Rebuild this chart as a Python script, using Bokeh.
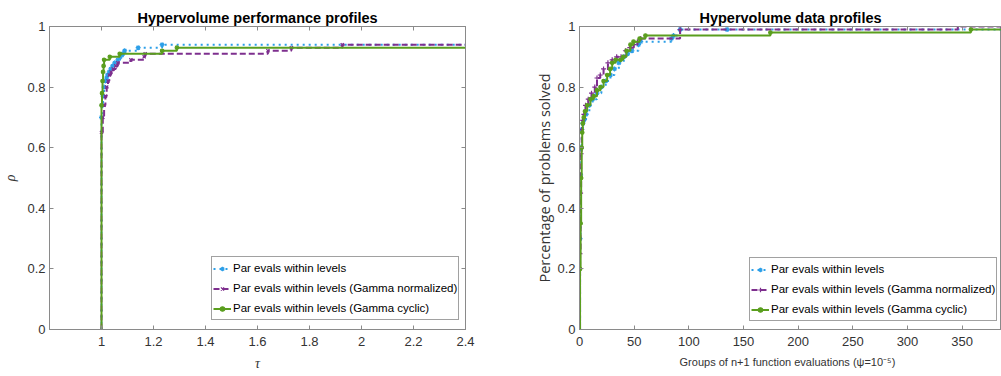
from bokeh.plotting import figure
from bokeh.models import LinearAxis, FixedTicker, Range1d, Legend, LegendItem
from bokeh.layouts import row
from bokeh.embed import file_html
from bokeh.resources import INLINE

# ---------------- data ----------------
series_names = ["Par evals within levels",
                "Par evals within levels (Gamma normalized)",
                "Par evals within levels (Gamma cyclic)"]

# performance profiles (tau, rho) step breakpoints
perf_tau_levels = [1.0, 1.0, 1.003, 1.006, 1.01, 1.015, 1.02, 1.023, 1.03, 1.036, 1.043, 1.051,
                   1.063, 1.072, 1.082, 1.089, 1.141, 1.233, 2.4]
perf_rho_levels = [0.0, 0.70, 0.74, 0.77, 0.80, 0.82, 0.83, 0.84, 0.85, 0.86, 0.87, 0.88,
                   0.89, 0.90, 0.91, 0.92, 0.93, 0.94, 0.94]

perf_tau_norm = [1.0, 1.0, 1.005, 1.01, 1.015, 1.02, 1.025, 1.03, 1.037, 1.045, 1.055, 1.063,
                 1.113, 1.164, 1.168, 1.64, 1.73, 1.926, 2.4]
perf_rho_norm = [0.0, 0.65, 0.70, 0.74, 0.77, 0.80, 0.82, 0.84, 0.85, 0.86, 0.87, 0.88,
                 0.89, 0.90, 0.91, 0.92, 0.93, 0.94, 0.94]

perf_tau_cyclic = [1.0, 1.0, 1.002, 1.004, 1.006, 1.008, 1.01, 1.032, 1.07, 1.233, 1.29, 2.4]
perf_rho_cyclic = [0.0, 0.74, 0.78, 0.82, 0.85, 0.87, 0.89, 0.90, 0.91, 0.92, 0.93, 0.93]

# data profiles (groups of n+1 evaluations, fraction solved)
data_x_levels = [0, 0.5, 1, 1.5, 2, 3, 4, 6, 9, 12, 16, 20, 24, 28.3, 32, 36, 40.5, 44, 48,
                 54, 56, 84, 86, 92, 135, 386]
data_y_levels = [0.0, 0.3, 0.51, 0.6, 0.66, 0.68, 0.69, 0.71, 0.74, 0.76, 0.78, 0.80, 0.82, 0.84,
                 0.86, 0.88, 0.90, 0.91, 0.92, 0.94, 0.95, 0.96, 0.97, 0.99, 0.99, 0.99]

data_x_norm = [0, 0.5, 1, 1.5, 2, 3, 4, 5.5, 8, 11, 14, 16, 19, 22, 26, 29.9, 34, 38, 42, 46,
               49.6, 53, 56, 92, 346, 386]
data_y_norm = [0.0, 0.25, 0.45, 0.58, 0.66, 0.69, 0.71, 0.74, 0.76, 0.78, 0.80, 0.83, 0.84, 0.86,
               0.88, 0.89, 0.90, 0.90, 0.92, 0.93, 0.94, 0.95, 0.96, 0.99, 1.0, 1.0]

data_x_cyclic = [0, 0.5, 1, 1.5, 2, 2.5, 3, 3.9, 5, 7, 10, 13, 16, 19.2, 22, 25.3, 28, 29.9,
                 33, 37.5, 40, 43, 46.6, 49.4, 55, 60.3, 174.6, 358, 386]
data_y_cyclic = [0.0, 0.2, 0.35, 0.5, 0.6, 0.65, 0.68, 0.70, 0.72, 0.74, 0.76, 0.77, 0.79, 0.80,
                 0.82, 0.84, 0.86, 0.88, 0.89, 0.89, 0.90, 0.92, 0.94, 0.95, 0.96, 0.97, 0.98,
                 0.99, 0.99]

perf_xticks = [1.0, 1.2, 1.4, 1.6, 1.8, 2.0, 2.2, 2.4]
perf_xtick_labels = ["1", "1.2", "1.4", "1.6", "1.8", "2", "2.2", "2.4"]
data_xticks = [0, 50, 100, 150, 200, 250, 300, 350]
data_xtick_labels = ["0", "50", "100", "150", "200", "250", "300", "350"]
yticks = [0.0, 0.2, 0.4, 0.6, 0.8, 1.0]
ytick_labels = ["0", "0.2", "0.4", "0.6", "0.8", "1"]

# ---------------- style ----------------
SANS = "Liberation Sans"
AX = "#8a8a8a"
TXT = "#333333"
BLUE = "#2c9fe8"
PURPLE = "#7e2f8e"
GREEN = "#5a9e1e"


def style_axis(ax, ticks, labels, show_labels=True):
    ax.ticker = FixedTicker(ticks=ticks)
    ax.major_tick_in = 4
    ax.major_tick_out = 0
    ax.minor_tick_line_color = None
    ax.axis_line_color = AX
    ax.major_tick_line_color = AX
    ax.major_label_text_font = SANS
    if show_labels:
        ax.major_label_overrides = {t: l for t, l in zip(ticks, labels)}
        ax.major_label_text_color = TXT
        ax.major_label_text_font_size = "13px"
    else:
        ax.major_label_text_color = None
        ax.major_label_text_font_size = "1px"
        ax.major_label_standoff = 0


def make_fig(width, xr, xticks, xlabels, title, min_left, min_right, right_ticks):
    p = figure(width=width, height=376, x_range=xr, y_range=Range1d(0, 1),
               output_backend="svg", toolbar_location=None,
               min_border_left=min_left, min_border_right=min_right,
               min_border_top=26, min_border_bottom=47)
    p.grid.visible = False
    p.outline_line_color = AX
    p.background_fill_color = "white"
    p.border_fill_color = "white"
    xa = p.xaxis[0]
    ya = p.yaxis[0]
    style_axis(xa, xticks, xlabels)
    xa.major_label_standoff = 7
    style_axis(ya, yticks, ytick_labels)
    ya.major_label_standoff = 4
    top = LinearAxis()
    style_axis(top, xticks, xlabels, show_labels=False)
    p.add_layout(top, "above")
    if right_ticks:
        rt = LinearAxis()
        style_axis(rt, yticks, ytick_labels, show_labels=False)
        p.add_layout(rt, "right")
    p.title.text = title
    p.title.align = "center"
    p.title.text_font = SANS
    p.title.text_font_size = "14.5px"
    p.title.text_font_style = "bold"
    p.title.text_color = "black"
    p.title.standoff = 2
    return p, xa, ya


def add_series(p, xs, ys, color, dash, marker, msize):
    r1 = p.step(xs, ys, mode="after", line_color=color, line_width=2, line_dash=dash)
    r2 = p.scatter(xs[1:-1], ys[1:-1], marker=marker, size=msize, line_color=color,
                   fill_color=color, line_width=1.2)
    return [r1, r2]


def add_legend(p, items, loc):
    leg = Legend(items=items, location=loc, label_text_font=SANS,
                 label_text_font_size="11.5px", label_text_color="black",
                 border_line_color="#444444", border_line_width=1,
                 background_fill_color="white", background_fill_alpha=1,
                 glyph_width=18, glyph_height=11, label_height=20, spacing=0,
                 padding=1, margin=0, label_standoff=2)
    p.add_layout(leg, "center")


# ---------- left: performance profiles ----------
p1, x1, y1 = make_fig(500, Range1d(0.8, 2.4), perf_xticks, perf_xtick_labels,
                      "Hypervolume performance profiles", 40, 35, True)
x1.axis_label = "τ"
y1.axis_label = "ρ"
for ax in (x1, y1):
    ax.axis_label_text_font = "Liberation Serif"
    ax.axis_label_text_font_style = "italic"
    ax.axis_label_text_font_size = "14px"
    ax.axis_label_text_color = TXT
x1.axis_label_standoff = 7
y1.axis_label_standoff = 6

a = add_series(p1, perf_tau_levels, perf_rho_levels, BLUE, "dotted", "asterisk", 5)
b = add_series(p1, perf_tau_norm, perf_rho_norm, PURPLE, "6 3", "x", 4.5)
c = add_series(p1, perf_tau_cyclic, perf_rho_cyclic, GREEN, "solid", "circle", 3.5)
add_legend(p1, [LegendItem(label=series_names[0], renderers=a),
                LegendItem(label=series_names[1], renderers=b),
                LegendItem(label=series_names[2], renderers=c)], (162, 9))

# ---------- right: data profiles ----------
p2, x2, y2 = make_fig(501, Range1d(0, 386), data_xticks, data_xtick_labels,
                      "Hypervolume data profiles", 79, 0, False)
x2.axis_label = "Groups of n+1 function evaluations   (\u03c8=10\u207b\u2075)"
x2.axis_label_text_font = SANS
x2.axis_label_text_font_size = "11px"
x2.axis_label_text_font_style = "normal"
x2.axis_label_text_color = TXT
x2.axis_label_standoff = 7
y2.axis_label = "Percentage of problems solved"
y2.axis_label_text_font = "Open Sans"
y2.axis_label_text_font_size = "14.5px"
y2.axis_label_text_font_style = "normal"
y2.axis_label_text_color = TXT
y2.axis_label_standoff = 0

d = add_series(p2, data_x_levels, data_y_levels, BLUE, "dotted", "asterisk", 5)
e = add_series(p2, data_x_norm, data_y_norm, PURPLE, "6 3", "cross", 5)
f = add_series(p2, data_x_cyclic, data_y_cyclic, GREEN, "solid", "circle", 3.5)
add_legend(p2, [LegendItem(label=series_names[0], renderers=d),
                LegendItem(label=series_names[1], renderers=e),
                LegendItem(label=series_names[2], renderers=f)], (170, 8))

layout = row(p1, p2)
open("out.html", "w").write(file_html(layout, INLINE))
